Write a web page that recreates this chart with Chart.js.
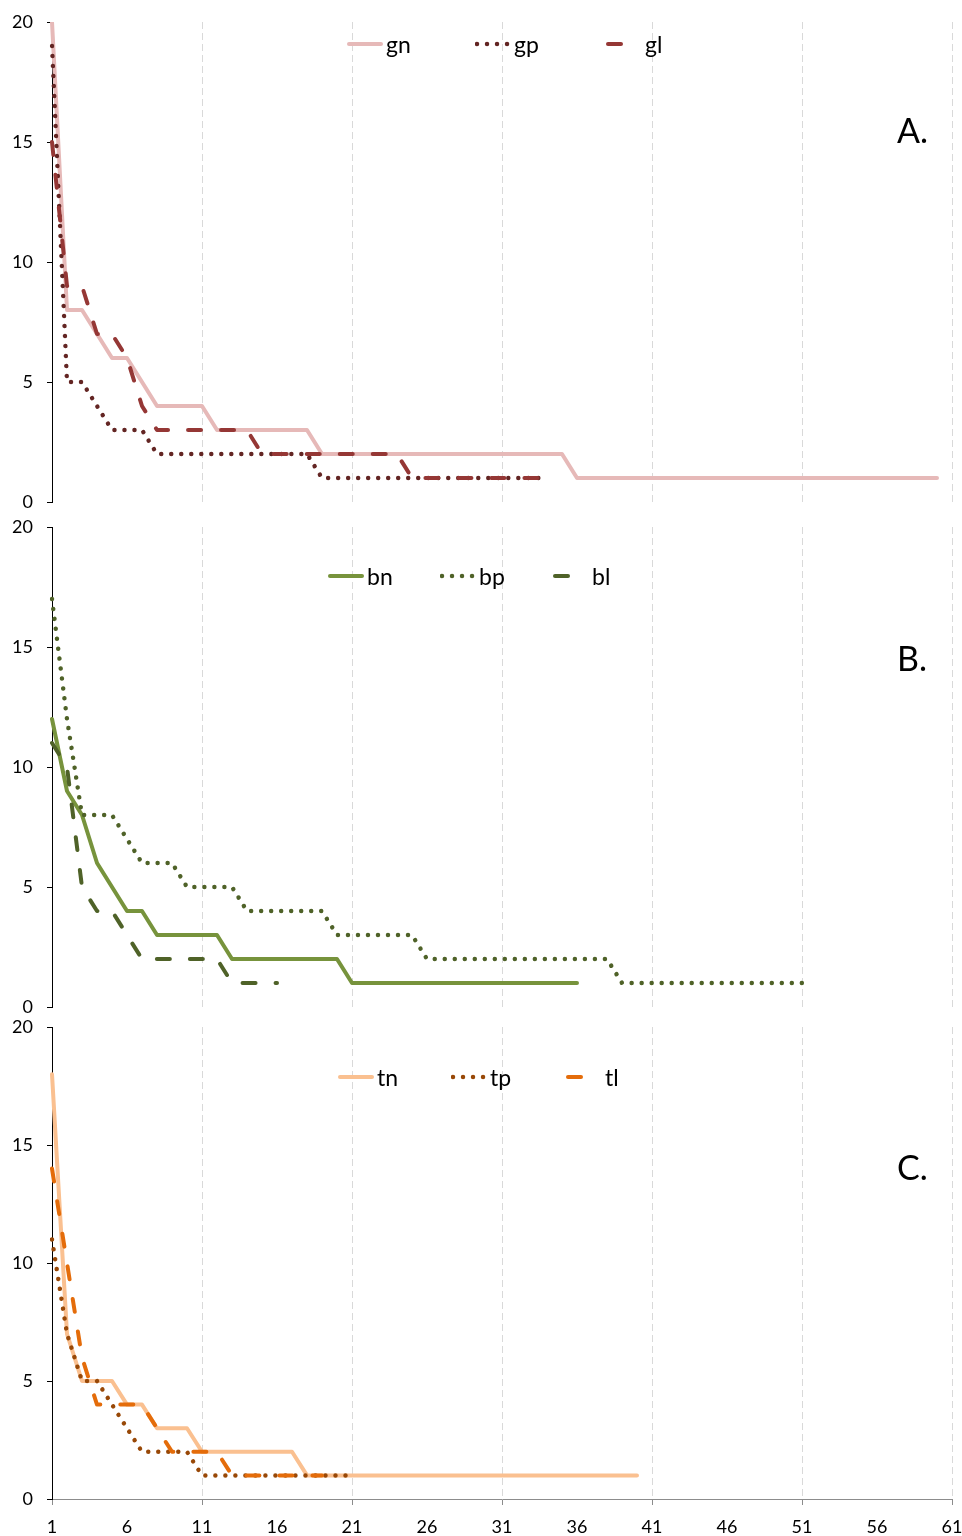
<!DOCTYPE html>
<html lang="en">
<head>
  <meta charset="UTF-8">
  <title>Rank curves A-C</title>
  <script src="https://cdn.jsdelivr.net/npm/chart.js"></script>
  <style>
    body { margin: 0; background: #fff; font-family: Lato, "Open Sans", sans-serif; }
    #page { position: relative; width: 962px; height: 1536px; overflow: hidden; }
    .panel { position: absolute; left: 0; width: 962px; }
    .panel canvas { display: block; }
    .item { position: absolute; height: 30px; display: flex; align-items: center; font-size: 23px; color: #000; white-space: nowrap; }
    .item svg { margin-right: 3px; }
    .tag { position: absolute; left: 897px; font-size: 34px; line-height: 34px; color: #000; }
  </style>
</head>
<body>
  <div id="page">
    <div class="panel" style="top:5px;height:517px"><canvas id="chartA" width="962" height="517"></canvas></div>
    <div class="panel" style="top:510px;height:517px"><canvas id="chartB" width="962" height="517"></canvas></div>
    <div class="panel" style="top:1010px;height:526px"><canvas id="chartC" width="962" height="526"></canvas></div>
    <div class="tag" style="top:113px">A.</div>
    <div class="tag" style="top:641px">B.</div>
    <div class="tag" style="top:1150px">C.</div>
  </div>

  <script>
    // x categories and y ticks
    const xLabels = [1, 2, 3, 4, 5, 6, 7, 8, 9, 10, 11, 12, 13, 14, 15, 16, 17, 18, 19, 20,
      21, 22, 23, 24, 25, 26, 27, 28, 29, 30, 31, 32, 33, 34, 35, 36, 37, 38, 39, 40,
      41, 42, 43, 44, 45, 46, 47, 48, 49, 50, 51, 52, 53, 54, 55, 56, 57, 58, 59, 60, 61];
    const yTicks = [0, 5, 10, 15, 20];

    // panel A
    const gn = [20, 8, 8, 7, 6, 6, 5, 4, 4, 4, 4, 3, 3, 3, 3, 3, 3, 3,
      2, 2, 2, 2, 2, 2, 2, 2, 2, 2, 2, 2, 2, 2, 2, 2, 2,
      1, 1, 1, 1, 1, 1, 1, 1, 1, 1, 1, 1, 1, 1, 1, 1, 1, 1, 1, 1, 1, 1, 1, 1, 1];
    const gp = [19, 5, 5, 4, 3, 3, 3, 2, 2, 2, 2, 2, 2, 2, 2, 2, 2, 2,
      1, 1, 1, 1, 1, 1, 1, 1, 1, 1, 1, 1, 1, 1, 1, 1];
    const gl = [15, 9, 9, 7, 7, 6, 4, 3, 3, 3, 3, 3, 3, 3,
      2, 2, 2, 2, 2, 2, 2, 2, 2, 2, 1, 1, 1, 1, 1, 1, 1, 1, 1, 1];

    // panel B
    const bn = [12, 9, 8, 6, 5, 4, 4, 3, 3, 3, 3, 3, 2, 2, 2, 2, 2, 2, 2, 2,
      1, 1, 1, 1, 1, 1, 1, 1, 1, 1, 1, 1, 1, 1, 1, 1];
    const bp = [17, 12, 8, 8, 8, 7, 6, 6, 6, 5, 5, 5, 5, 4, 4, 4, 4, 4, 4,
      3, 3, 3, 3, 3, 3, 2, 2, 2, 2, 2, 2, 2, 2, 2, 2, 2, 2, 2,
      1, 1, 1, 1, 1, 1, 1, 1, 1, 1, 1, 1, 1];
    const bl = [11, 10, 5, 4, 4, 3, 2, 2, 2, 2, 2, 2, 1, 1, 1, 1];

    // panel C
    const tn = [18, 7, 5, 5, 5, 4, 4, 3, 3, 3, 2, 2, 2, 2, 2, 2, 2,
      1, 1, 1, 1, 1, 1, 1, 1, 1, 1, 1, 1, 1, 1, 1, 1, 1, 1, 1, 1, 1, 1, 1];
    const tp = [11, 7, 5, 5, 4, 3, 2, 2, 2, 2, 1, 1, 1, 1, 1, 1, 1, 1, 1, 1, 1];
    const tl = [14, 10, 6, 4, 4, 4, 4, 3, 2, 2, 2, 2, 1, 1, 1, 1, 1, 1, 1];

    Chart.defaults.font.family = 'Lato';
    Chart.defaults.color = '#000';

    const dashes = { solid: [], dot: [0.01, 10], dash: [13, 20] };

    function series(label, data, color, kind, order) {
      return {
        label: label,
        data: data,
        borderColor: color,
        borderWidth: kind === 'dot' ? 4.5 : 4,
        borderDash: dashes[kind],
        borderCapStyle: 'round',
        borderJoinStyle: 'round',
        pointRadius: 0,
        tension: 0,
        fill: false,
        order: order
      };
    }

    function makeChart(id, datasets, showX) {
      return new Chart(document.getElementById(id), {
        type: 'line',
        data: { labels: xLabels, datasets: datasets },
        options: {
          responsive: false,
          animation: false,
          layout: { padding: { top: 17, right: 10, left: 0, bottom: 0 } },
          plugins: { legend: { display: false }, tooltip: { enabled: false } },
          scales: {
            x: {
              type: 'category',
              offset: false,
              grid: {
                offset: false,
                color: ctx => (ctx.index % 10 === 0 && ctx.index > 0) ? '#d9d9d9' : 'rgba(0,0,0,0)',
                lineWidth: 1,
                borderDash: [7, 4],
                drawTicks: showX,
                tickLength: 6,
                tickColor: ctx => ctx.index % 10 === 0 ? '#8c8c8c' : 'rgba(0,0,0,0)',
                tickBorderDash: []
              },
              border: { display: showX, color: '#8c8c8c', width: 1, dash: [7, 4] },
              ticks: {
                display: showX,
                autoSkip: false,
                maxRotation: 0,
                padding: 11,
                font: { size: 18 },
                callback: function (v, i) { return i % 5 === 0 ? this.getLabelForValue(v) : ''; }
              },
              // fixed axis band, no automatic label overflow padding
              afterFit: s => { s.height = showX ? 37 : 20; s.paddingLeft = 0; s.paddingRight = 0; }
            },
            y: {
              min: 0,
              max: 20,
              afterBuildTicks: s => { s.ticks = yTicks.map(v => ({ value: v })); },
              grid: { drawOnChartArea: false, drawTicks: true, tickLength: 5, tickColor: '#000' },
              border: { color: '#000', width: 1 },
              ticks: { padding: 14, font: { size: 18 } },
              afterFit: s => { s.width = 52; s.paddingTop = 0; s.paddingBottom = 0; }
            }
          }
        }
      });
    }

    function buildLegend(chart, lefts, yCenter) {
      const page = document.getElementById('page');
      chart.data.datasets.forEach((ds, i) => {
        const item = document.createElement('div');
        item.className = 'item';
        item.style.left = lefts[i] + 'px';
        item.style.top = (yCenter - 15) + 'px';
        const dash = ds.borderDash.length ? ds.borderDash.join(' ') : 'none';
        item.innerHTML =
          '<svg width="36" height="10"><line x1="2" y1="5" x2="34" y2="5" stroke="' + ds.borderColor +
          '" stroke-width="' + ds.borderWidth + '" stroke-linecap="round" stroke-dasharray="' + dash +
          '"/></svg><span>' + ds.label + '</span>';
        page.appendChild(item);
      });
    }

    const chartA = makeChart('chartA', [
      series('gn', gn, '#e6b9b8', 'solid', 3),
      series('gp', gp, '#632523', 'dot', 2),
      series('gl', gl, '#953735', 'dash', 1)
    ], false);

    const chartB = makeChart('chartB', [
      series('bn', bn, '#77933c', 'solid', 3),
      series('bp', bp, '#4f6228', 'dot', 2),
      series('bl', bl, '#4f6228', 'dash', 1)
    ], false);

    const chartC = makeChart('chartC', [
      series('tn', tn, '#fac090', 'solid', 3),
      series('tp', tp, '#984807', 'dot', 2),
      series('tl', tl, '#e46c0a', 'dash', 1)
    ], true);

    buildLegend(chartA, [347, 475, 606], 44);
    buildLegend(chartB, [328, 440, 553], 576);
    buildLegend(chartC, [338, 451, 566], 1077);
  </script>
</body>
</html>
